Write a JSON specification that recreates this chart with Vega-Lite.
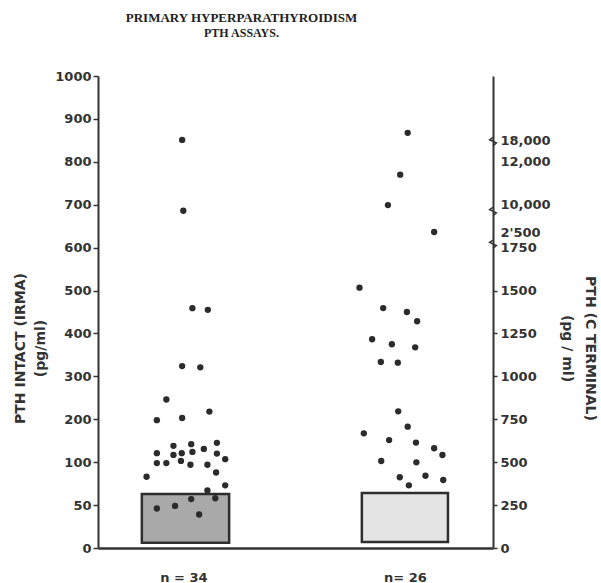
{
  "$schema": "https://vega.github.io/schema/vega-lite/v6.json",
  "autosize": "none",
  "width": 395,
  "height": 472,
  "padding": {"left": 98, "top": 76, "right": 108, "bottom": 35},
  "background": "white",
  "title": {
    "text": "PRIMARY HYPERPARATHYROIDISM",
    "subtitle": "PTH ASSAYS.",
    "font": "Liberation Serif",
    "fontSize": 13,
    "fontWeight": "bold",
    "color": "#222",
    "subtitleFont": "Liberation Serif",
    "subtitleFontSize": 12,
    "subtitleFontWeight": "bold",
    "subtitleColor": "#222",
    "subtitlePadding": 3,
    "anchor": "middle",
    "frame": "group",
    "dx": -54,
    "offset": 31
  },
  "config": {
    "view": {"stroke": null},
    "axis": {
      "grid": false,
      "domainColor": "#333",
      "domainWidth": 2,
      "tickColor": "#333",
      "tickWidth": 1.5,
      "labelColor": "#333",
      "labelFont": "DejaVu Sans",
      "labelFontWeight": "bold",
      "labelFontSize": 13,
      "titleColor": "#333",
      "titleFont": "DejaVu Sans",
      "titleFontWeight": "bold",
      "titleFontSize": 14
    }
  },
  "datasets": {
    "irma": [
      {"x": 21.3, "v": 851}, {"x": 21.6, "v": 686}, {"x": 23.9, "v": 459}, {"x": 27.8, "v": 455},
      {"x": 21.3, "v": 324}, {"x": 25.9, "v": 321}, {"x": 17.3, "v": 246}, {"x": 28.2, "v": 218},
      {"x": 14.9, "v": 198}, {"x": 21.3, "v": 203}, {"x": 19.1, "v": 138}, {"x": 23.6, "v": 142},
      {"x": 30.1, "v": 145}, {"x": 14.9, "v": 121}, {"x": 19.1, "v": 117}, {"x": 21.2, "v": 121},
      {"x": 23.9, "v": 124}, {"x": 26.8, "v": 131}, {"x": 30.1, "v": 120}, {"x": 32.2, "v": 107},
      {"x": 21.0, "v": 103}, {"x": 14.9, "v": 99}, {"x": 17.3, "v": 99}, {"x": 23.4, "v": 97},
      {"x": 27.7, "v": 97}, {"x": 29.9, "v": 88}, {"x": 12.3, "v": 83}, {"x": 32.2, "v": 73},
      {"x": 27.7, "v": 67}, {"x": 14.9, "v": 46}, {"x": 19.5, "v": 49}, {"x": 23.6, "v": 57},
      {"x": 25.6, "v": 39}, {"x": 29.7, "v": 58}
    ],
    "cterm": [
      {"x": 78.4, "v": 19400}, {"x": 76.5, "v": 11400}, {"x": 73.4, "v": 9900}, {"x": 85.1, "v": 2550},
      {"x": 66.2, "v": 1517}, {"x": 72.2, "v": 1398}, {"x": 78.2, "v": 1375}, {"x": 80.8, "v": 1321},
      {"x": 69.4, "v": 1216}, {"x": 74.4, "v": 1187}, {"x": 80.3, "v": 1169}, {"x": 71.6, "v": 1084},
      {"x": 75.9, "v": 1080}, {"x": 76.0, "v": 796}, {"x": 78.4, "v": 707}, {"x": 67.3, "v": 668},
      {"x": 73.7, "v": 629}, {"x": 80.5, "v": 614}, {"x": 85.1, "v": 581}, {"x": 87.2, "v": 542},
      {"x": 71.7, "v": 507}, {"x": 80.6, "v": 499}, {"x": 76.4, "v": 412}, {"x": 82.9, "v": 421},
      {"x": 87.4, "v": 396}, {"x": 78.7, "v": 365}
    ],
    "boxL": [{"x1": 11.1, "x2": 33.2, "lo": 6, "hi": 63}],
    "boxR": [{"x1": 66.8, "x2": 88.6, "lo": 35, "hi": 320}],
    "breaks": [{"x": 100, "v": 17640}, {"x": 100, "v": 8125}, {"x": 100, "v": 1917}]
  },
  "layer": [
    {
      "layer": [
        {
          "data": {"name": "boxL"},
          "mark": {"type": "rect", "fill": "#a9a9a9", "stroke": "#2e2e2e", "strokeWidth": 2.5},
          "encoding": {
            "x": {"field": "x1", "type": "quantitative", "scale": {"domain": [0, 100], "zero": false, "nice": false},
                  "axis": {"values": [21.6, 77.7], "labelExpr": "datum.value < 50 ? 'n = 34' : 'n= 26'", "ticks": false, "labelPadding": 23, "labelFontSize": 13, "title": null, "domainWidth": 2.5}},
            "x2": {"field": "x2"},
            "y": {"field": "hi", "type": "quantitative",
                  "scale": {"domain": [0, 50, 100, 200, 300, 400, 500, 600, 700, 800, 900, 1000], "range": [472, 429.09, 386.18, 343.27, 300.36, 257.45, 214.55, 171.64, 128.73, 85.82, 42.91, 0], "nice": false, "zero": false},
                  "axis": {"orient": "left", "values": [0, 50, 100, 200, 300, 400, 500, 600, 700, 800, 900, 1000], "format": "d", "tickSize": 5, "labelPadding": 2,
                           "title": ["PTH INTACT (IRMA)", "(pg/ml)"], "titleAngle": -90, "titleX": -78, "titleY": 272, "titleAlign": "center", "titleBaseline": "middle", "titleLineHeight": 20}},
            "y2": {"field": "lo"}
          }
        },
        {
          "data": {"name": "irma"},
          "mark": {"type": "point", "filled": true, "color": "#2b2b2b", "size": 40, "opacity": 1},
          "encoding": {
            "x": {"field": "x", "type": "quantitative"},
            "y": {"field": "v", "type": "quantitative"}
          }
        }
      ]
    },
    {
      "layer": [
        {
          "data": {"name": "boxR"},
          "mark": {"type": "rect", "fill": "#e4e4e4", "stroke": "#2e2e2e", "strokeWidth": 2.5},
          "encoding": {
            "x": {"field": "x1", "type": "quantitative"},
            "x2": {"field": "x2"},
            "y": {"field": "hi", "type": "quantitative",
                  "scale": {"domain": [0, 250, 500, 750, 1000, 1250, 1500, 1750, 2500, 10000, 12000, 18000, 30000], "range": [472, 429.09, 386.18, 343.27, 300.36, 257.45, 214.55, 171.64, 156.19, 128.73, 85.82, 64.36, 0], "nice": false, "zero": false},
                  "axis": {"orient": "right", "values": [0, 250, 500, 750, 1000, 1250, 1500, 1750, 2500, 10000, 12000, 18000],
                           "labelExpr": "datum.value >= 10000 ? format(datum.value, ',') : datum.value == 2500 ? \"2'500\" : format(datum.value, 'd')",
                           "tickSize": 4, "labelPadding": 3,
                           "tickOpacity": {"condition": {"test": "datum.value > 1500", "value": 0}, "value": 1},
                           "title": ["PTH (C TERMINAL)", "(pg / ml)"], "titleAngle": 90, "titleX": 96, "titleY": 272, "titleAlign": "center", "titleBaseline": "middle", "titleLineHeight": 23}},
            "y2": {"field": "lo"}
          }
        },
        {
          "data": {"name": "cterm"},
          "mark": {"type": "point", "filled": true, "color": "#2b2b2b", "size": 40, "opacity": 1},
          "encoding": {
            "x": {"field": "x", "type": "quantitative"},
            "y": {"field": "v", "type": "quantitative"}
          }
        },
        {
          "data": {"name": "breaks"},
          "mark": {"type": "point", "shape": "M0,-1 L-0.8,-0.45 L0.8,0.3 L0,1", "filled": false, "stroke": "#333", "strokeWidth": 1.5, "size": 70, "opacity": 1},
          "encoding": {
            "x": {"field": "x", "type": "quantitative"},
            "y": {"field": "v", "type": "quantitative"}
          }
        }
      ]
    }
  ],
  "resolve": {"scale": {"y": "independent"}, "axis": {"y": "independent"}}
}
